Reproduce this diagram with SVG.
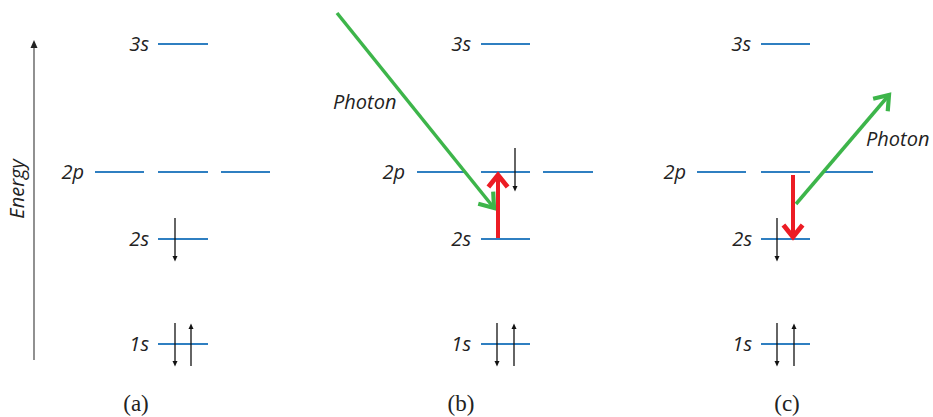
<svg xmlns="http://www.w3.org/2000/svg" width="933" height="417" viewBox="0 0 933 417">
<style>
.lvl{stroke:#2f7fc1;stroke-width:2;fill:none}
.lbl{font-family:"Open Sans","Liberation Sans",sans-serif;font-style:italic;font-size:20px;fill:#222}
.cap{font-family:"Liberation Serif",serif;font-size:23px;fill:#222;text-anchor:middle}
.e{stroke:#111;stroke-width:1.3;fill:none}
.eh{fill:#111}
.g{stroke:#3db54a;stroke-width:3.5;fill:none}
.r{stroke:#ec1c24;stroke-width:4;fill:none}
</style>
<defs>
<marker id="gh" markerUnits="userSpaceOnUse" markerWidth="24" markerHeight="24" refX="0" refY="0" viewBox="-14 -10 16 20" orient="auto">
<path d="M-11,-8 L0,0 L-11,8" stroke="#3db54a" stroke-width="3.5" fill="none" stroke-linecap="butt" stroke-linejoin="miter"/>
</marker>
<marker id="rh" markerUnits="userSpaceOnUse" markerWidth="24" markerHeight="24" refX="0" refY="0" viewBox="-14 -10 16 20" orient="auto">
<path d="M-10,-8 L0,0 L-10,8" stroke="#ec1c24" stroke-width="4" fill="none" stroke-linejoin="miter"/>
</marker>
</defs>
<g id="axis">
<line x1="34" y1="46" x2="34" y2="360" stroke="#555" stroke-width="1.3"/>
<path d="M30.5,48 L34,40 L37.5,48 Z" fill="#222"/>
<text class="lbl" transform="translate(24,189) rotate(-90)" text-anchor="middle">Energy</text>
</g>
<g id="panel-a">
<g id="a-3s"><line class="lvl" x1="158" y1="44" x2="208" y2="44"/><text class="lbl" x="149" y="51" text-anchor="end">3s</text></g>
<g id="a-2p"><line class="lvl" x1="95" y1="172" x2="144" y2="172"/><line class="lvl" x1="158" y1="172" x2="208" y2="172"/><line class="lvl" x1="221" y1="172" x2="270" y2="172"/><text class="lbl" x="84" y="179" text-anchor="end">2p</text></g>
<g id="a-2s"><line class="lvl" x1="158" y1="239" x2="208" y2="239"/><text class="lbl" x="149" y="246" text-anchor="end">2s</text>
<line class="e" x1="175" y1="218" x2="175" y2="258"/><path class="eh" d="M172.5,256 L175,261.5 L177.5,256 Z"/></g>
<g id="a-1s"><line class="lvl" x1="158" y1="344" x2="208" y2="344"/><text class="lbl" x="149" y="351" text-anchor="end">1s</text>
<line class="e" x1="175" y1="323" x2="175" y2="363"/><path class="eh" d="M172.5,361 L175,366.5 L177.5,361 Z"/>
<line class="e" x1="191" y1="327" x2="191" y2="366"/><path class="eh" d="M188.5,329 L191,323.5 L193.5,329 Z"/></g>
<text class="cap" x="136" y="411">(a)</text>
</g>
<g id="panel-b">
<g id="b-3s"><line class="lvl" x1="481" y1="44" x2="530" y2="44"/><text class="lbl" x="471" y="51" text-anchor="end">3s</text></g>
<g id="b-2p"><line class="lvl" x1="417" y1="172" x2="466" y2="172"/><line class="lvl" x1="481" y1="172" x2="530" y2="172"/><line class="lvl" x1="543" y1="172" x2="593" y2="172"/><text class="lbl" x="405" y="179" text-anchor="end">2p</text>
<line class="e" x1="515" y1="148" x2="515" y2="188"/><path class="eh" d="M512.5,186 L515,191.5 L517.5,186 Z"/></g>
<g id="b-2s"><line class="lvl" x1="481" y1="239" x2="530" y2="239"/><text class="lbl" x="471" y="246" text-anchor="end">2s</text></g>
<g id="b-1s"><line class="lvl" x1="481" y1="344" x2="530" y2="344"/><text class="lbl" x="471" y="351" text-anchor="end">1s</text>
<line class="e" x1="497" y1="323" x2="497" y2="363"/><path class="eh" d="M494.5,361 L497,366.5 L499.5,361 Z"/>
<line class="e" x1="514" y1="327" x2="514" y2="366"/><path class="eh" d="M511.5,329 L514,323.5 L516.5,329 Z"/></g>
<text class="lbl" id="b-photon" x="333" y="109">Photon</text>
<text class="cap" x="461" y="411">(b)</text>
</g>
<g id="panel-c">
<g id="c-3s"><line class="lvl" x1="761" y1="44" x2="810" y2="44"/><text class="lbl" x="751" y="51" text-anchor="end">3s</text></g>
<g id="c-2p"><line class="lvl" x1="697" y1="172" x2="746" y2="172"/><line class="lvl" x1="761" y1="172" x2="810" y2="172"/><line class="lvl" x1="824" y1="172" x2="873" y2="172"/><text class="lbl" x="686" y="179" text-anchor="end">2p</text></g>
<g id="c-2s"><line class="lvl" x1="761" y1="239" x2="810" y2="239"/><text class="lbl" x="752" y="246" text-anchor="end">2s</text>
<line class="e" x1="777" y1="218" x2="777" y2="258"/><path class="eh" d="M774.5,256 L777,261.5 L779.5,256 Z"/></g>
<g id="c-1s"><line class="lvl" x1="761" y1="344" x2="810" y2="344"/><text class="lbl" x="752" y="351" text-anchor="end">1s</text>
<line class="e" x1="777" y1="323" x2="777" y2="363"/><path class="eh" d="M774.5,361 L777,366.5 L779.5,361 Z"/>
<line class="e" x1="794" y1="327" x2="794" y2="366"/><path class="eh" d="M791.5,329 L794,323.5 L796.5,329 Z"/></g>
<text class="lbl" id="c-photon" x="866" y="146">Photon</text>
<text class="cap" x="787" y="411">(c)</text>
</g>
<g id="connectors">
<line class="g" x1="337" y1="13" x2="494" y2="208" marker-end="url(#gh)"/>
<line class="r" x1="498" y1="238" x2="498" y2="175" marker-end="url(#rh)"/>
<line class="r" x1="793" y1="175" x2="793" y2="237" marker-end="url(#rh)"/>
<line class="g" x1="796" y1="204" x2="889" y2="95" marker-end="url(#gh)"/>
</g>
</svg>
